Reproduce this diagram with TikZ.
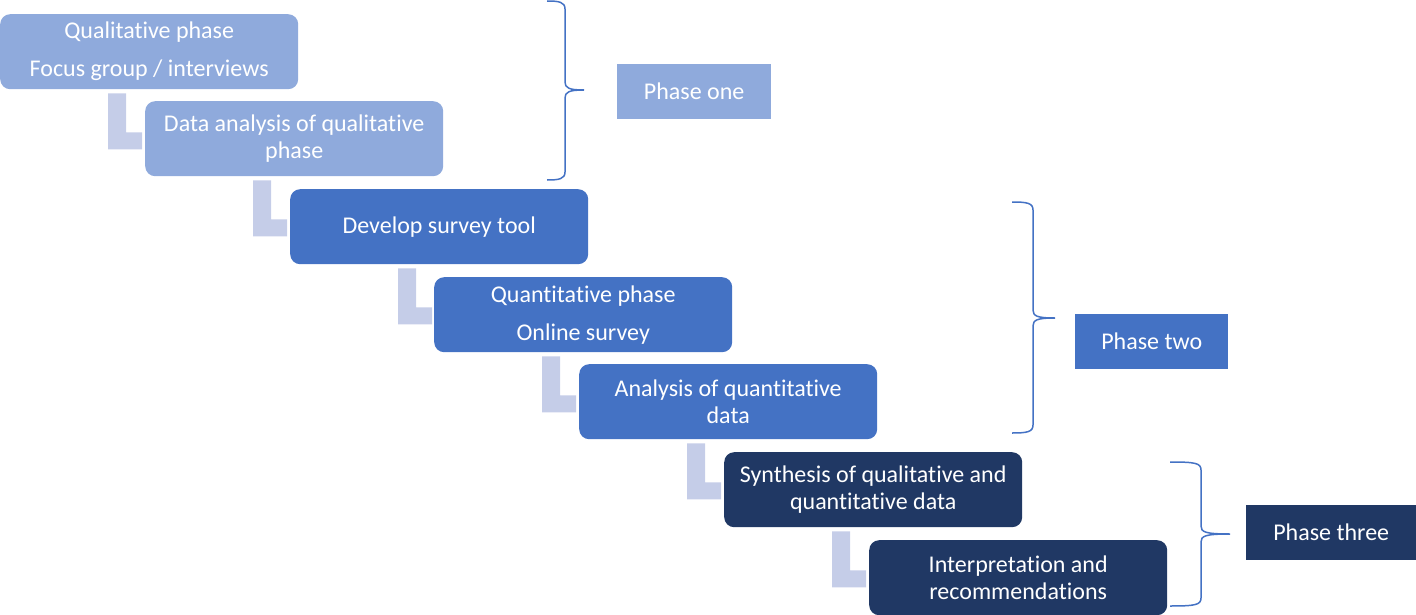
\documentclass[tikz,border=0pt]{standalone}
\usepackage{fontspec}
\setmainfont{Carlito}[Ligatures=NoCommon]
\usetikzlibrary{calc}
\definecolor{lightb}{HTML}{8FAADC}
\definecolor{midb}{HTML}{4472C4}
\definecolor{darkb}{HTML}{203864}
\definecolor{arrowc}{HTML}{C5CDE8}
\newcommand\mybrace[6]{% xtip, ytop, xvert, xpoint, ymid, ybot
  \draw[bracec] (#1,#2) .. controls (#3-6,#2) and (#3,#2+1) .. (#3,#2+8)
    -- (#3,#5-8) .. controls (#3,#5-2) and (#3+4,#5) .. (#4,#5)
    .. controls (#3+4,#5) and (#3,#5+2) .. (#3,#5+8)
    -- (#3,#6-8) .. controls (#3,#6-1) and (#3-6,#6) .. (#1,#6);}
\begin{document}
\begin{tikzpicture}[x=1pt,y=-1pt,
  stepbox/.style={rounded corners=10pt, minimum width=298pt, minimum height=75pt,
    text=white, font=\fontsize{24}{27}\selectfont, align=center, inner sep=0pt, anchor=north west},
  phasebox/.style={minimum height=55pt, text=white, font=\fontsize{24}{27}\selectfont,
    inner sep=0pt, anchor=north west},
  bracec/.style={draw=midb, line width=1.5pt},
  larrow/.style={fill=arrowc}]
\useasboundingbox (0,0) rectangle (1416,615);
\node[stepbox, fill=lightb] (b1) at (0,14) {Qualitative phase\\[11pt]Focus group / interviews};
\node[stepbox, fill=lightb] (b2) at (145,101) {Data analysis of qualitative\\phase};
\node[stepbox, fill=midb] (b3) at (290,189) {Develop survey tool};
\node[stepbox, fill=midb] (b4) at (434,277) {Quantitative phase\\[11pt]Online survey};
\node[stepbox, fill=midb] (b5) at (579,364) {Analysis of quantitative\\data};
\node[stepbox, fill=darkb] (b6) at (724,452) {Synthesis of qualitative and\\quantitative data};
\node[stepbox, fill=darkb] (b7) at (869,540) {Interpretation and\\recommendations};
\foreach \a in {b1,b2,b3,b4,b5,b6}{
  \fill[larrow] ($(\a.south west)+(108,4)$) -- ++(18,0) -- ++(0,39) -- ++(16,0)
    -- ++(0,17) -- ++(-34,0) -- cycle;
}
\node[phasebox, fill=lightb, minimum width=154pt] (p1) at (617,64) {Phase one};
\node[phasebox, fill=midb, minimum width=153pt] (p2) at (1075,314) {Phase two};
\node[phasebox, fill=darkb, minimum width=170pt] (p3) at (1246,505) {Phase three};
\mybrace{547}{1}{565}{584}{90}{180}
\mybrace{1012}{202}{1033}{1055}{318}{433}
\mybrace{1170}{462}{1201}{1230}{534}{606}
\end{tikzpicture}
\end{document}
